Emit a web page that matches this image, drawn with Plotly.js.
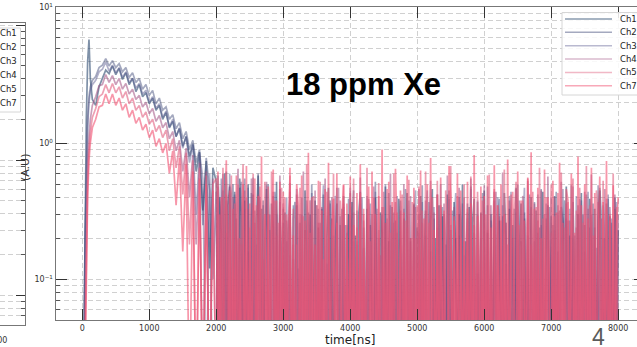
<!DOCTYPE html>
<html>
<head>
<meta charset="utf-8">
<script src="https://cdn.plot.ly/plotly-3.0.1.min.js"></script>
<style>
  html, body { margin: 0; padding: 0; background: #fff; overflow: hidden; }
  #chart { width: 660px; height: 347px; }
</style>
</head>
<body>
<div id="chart"></div>
<script>
// Sampling times of the averaged waveforms [ns]
const timeNs = [
  -400, 0, 20, 40, 60, 80, 100, 120, 150,
  200, 250, 300, 350, 400, 450, 500, 550, 600, 650, 700, 750, 800, 850, 900, 950, 1000, 1050, 1100, 1150,
  1200, 1250, 1300, 1350, 1400, 1450, 1500, 1550, 1600, 1650, 1700, 1750, 1800, 1850, 1900, 1950,
  2000, 2025, 2050, 2075, 2100, 2125, 2150, 2175, 2200, 2225, 2250, 2275, 2300, 2325, 2350, 2375, 2400, 2425, 2450, 2475,
  2500, 2525, 2550, 2575, 2600, 2625, 2650, 2675, 2700, 2725, 2750, 2775, 2800, 2825, 2850, 2875, 2900, 2925, 2950, 2975,
  3000, 3025, 3050, 3075, 3100, 3125, 3150, 3175, 3200, 3225, 3250, 3275, 3300, 3325, 3350, 3375, 3400, 3425, 3450, 3475,
  3500, 3525, 3550, 3575, 3600, 3625, 3650, 3675, 3700, 3725, 3750, 3775, 3800, 3825, 3850, 3875, 3900, 3925, 3950, 3975,
  4000, 4025, 4050, 4075, 4100, 4125, 4150, 4175, 4200, 4225, 4250, 4275, 4300, 4325, 4350, 4375, 4400, 4425, 4450, 4475,
  4500, 4525, 4550, 4575, 4600, 4625, 4650, 4675, 4700, 4725, 4750, 4775, 4800, 4825, 4850, 4875, 4900, 4925, 4950, 4975,
  5000, 5025, 5050, 5075, 5100, 5125, 5150, 5175, 5200, 5225, 5250, 5275, 5300, 5325, 5350, 5375, 5400, 5425, 5450, 5475,
  5500, 5525, 5550, 5575, 5600, 5625, 5650, 5675, 5700, 5725, 5750, 5775, 5800, 5825, 5850, 5875, 5900, 5925, 5950, 5975,
  6000, 6025, 6050, 6075, 6100, 6125, 6150, 6175, 6200, 6225, 6250, 6275, 6300, 6325, 6350, 6375, 6400, 6425, 6450, 6475,
  6500, 6525, 6550, 6575, 6600, 6625, 6650, 6675, 6700, 6725, 6750, 6775, 6800, 6825, 6850, 6875, 6900, 6925, 6950, 6975,
  7000, 7025, 7050, 7075, 7100, 7125, 7150, 7175, 7200, 7225, 7250, 7275, 7300, 7325, 7350, 7375, 7400, 7425, 7450, 7475,
  7500, 7525, 7550, 7575, 7600, 7625, 7650, 7675, 7700, 7725, 7750, 7775, 7800, 7825, 7850, 7875, 7900, 7925, 7950, 7975,
  8000
];

// Amplitudes [A.U]; 0.01 marks samples that sit below the visible floor (noise at or under zero)
const ch1 = [
  0.01, 0.01, 0.02, 0.3, 1.5, 4.0, 5.8, 3.0, 2.1,
  1.9, 2.6, 3.0, 3.45, 3.25, 3.7, 3.2, 3.55, 2.95, 3.3, 2.7, 3.0, 2.4, 2.7, 2.2, 2.35, 1.95, 2.15, 1.75, 1.9,
  1.5, 1.68, 1.3, 1.45, 1.12, 1.28, 0.95, 1.12, 0.8, 0.98, 0.62, 0.86, 0.32, 0.74, 0.12, 0.66,
  0.52, 0.01, 0.4, 0.22, 0.01, 0.6, 0.01, 0.35, 0.48, 0.01, 0.01, 0.44, 0.18, 0.01, 0.55, 0.3, 0.01, 0.38, 0.01, 0.5,
  0.12, 0.01, 0.42, 0.01, 0.27, 0.58, 0.01, 0.33, 0.01, 0.2, 0.46, 0.01, 0.01, 0.36, 0.24, 0.01, 0.52, 0.01, 0.3, 0.15,
  0.01, 0.31, 0.01, 0.22, 0.4, 0.01, 0.14, 0.01, 0.35, 0.01, 0.26, 0.01, 0.01, 0.45, 0.18, 0.01, 0.3, 0.01, 0.09, 0.38,
  0.01, 0.24, 0.01, 0.33, 0.01, 0.01, 0.2, 0.47, 0.01, 0.28, 0.01, 0.16, 0.36, 0.01, 0.25, 0.01, 0.41, 0.01, 0.12, 0.3,
  0.01, 0.37, 0.01, 0.21, 0.01, 0.29, 0.44, 0.01, 0.17, 0.01, 0.33, 0.01, 0.25, 0.01, 0.01, 0.4, 0.1, 0.01, 0.31, 0.22,
  0.01, 0.48, 0.01, 0.19, 0.01, 0.34, 0.01, 0.27, 0.01, 0.39, 0.15, 0.01, 0.28, 0.01, 0.43, 0.01, 0.2, 0.01, 0.36, 0.01,
  0.24, 0.01, 0.41, 0.01, 0.13, 0.32, 0.01, 0.01, 0.27, 0.46, 0.01, 0.2, 0.01, 0.35, 0.01, 0.29, 0.08, 0.01, 0.42, 0.01,
  0.23, 0.01, 0.37, 0.16, 0.01, 0.3, 0.01, 0.5, 0.01, 0.19, 0.01, 0.34, 0.01, 0.26, 0.39, 0.01, 0.11, 0.01, 0.31, 0.01,
  0.45, 0.01, 0.22, 0.01, 0.3, 0.01, 0.38, 0.14, 0.01, 0.27, 0.01, 0.01, 0.43, 0.2, 0.01, 0.33, 0.01, 0.25, 0.01, 0.47,
  0.01, 0.17, 0.36, 0.01, 0.28, 0.01, 0.21, 0.01, 0.4, 0.09, 0.01, 0.32, 0.01, 0.24, 0.01, 0.44, 0.01, 0.19, 0.35, 0.01,
  0.29, 0.01, 0.41, 0.01, 0.16, 0.01, 0.34, 0.26, 0.01, 0.48, 0.01, 0.21, 0.01, 0.37, 0.12, 0.01, 0.3, 0.01, 0.43, 0.01,
  0.25, 0.01, 0.01, 0.39, 0.18, 0.01, 0.33, 0.01, 0.27, 0.45, 0.01, 0.2, 0.01, 0.36, 0.01, 0.29, 0.1, 0.01, 0.4, 0.01,
  0.23
];
const ch2 = [
  0.01, 0.01, 0.01, 0.2, 0.8, 1.5, 2.2, 2.6, 2.9,
  3.1, 3.6, 3.75, 4.2, 3.7, 4.05, 3.6, 3.85, 3.35, 3.6, 3.05, 3.3, 2.8, 3.0, 2.5, 2.7, 2.25, 2.45, 1.95, 2.15,
  1.75, 1.85, 1.5, 1.62, 1.28, 1.42, 1.08, 1.22, 0.9, 1.05, 0.72, 0.9, 0.25, 0.78, 0.45, 0.01,
  0.01, 0.58, 0.3, 0.01, 0.45, 0.01, 0.62, 0.2, 0.01, 0.4, 0.5, 0.01, 0.28, 0.01, 0.47, 0.01, 0.35, 0.55, 0.01, 0.16,
  0.01, 0.43, 0.01, 0.32, 0.01, 0.6, 0.25, 0.01, 0.38, 0.01, 0.01, 0.5, 0.19, 0.01, 0.41, 0.01, 0.3, 0.01, 0.46, 0.01,
  0.33, 0.01, 0.19, 0.01, 0.44, 0.01, 0.28, 0.37, 0.01, 0.12, 0.01, 0.4, 0.01, 0.23, 0.01, 0.31, 0.01, 0.5, 0.17, 0.01,
  0.35, 0.01, 0.26, 0.01, 0.42, 0.01, 0.01, 0.29, 0.38, 0.01, 0.21, 0.01, 0.47, 0.01, 0.14, 0.33, 0.01, 0.25, 0.01, 0.39,
  0.01, 0.27, 0.45, 0.01, 0.18, 0.01, 0.36, 0.01, 0.24, 0.01, 0.41, 0.13, 0.01, 0.3, 0.01, 0.52, 0.01, 0.2, 0.01, 0.34,
  0.01, 0.26, 0.01, 0.43, 0.16, 0.01, 0.31, 0.01, 0.22, 0.01, 0.38, 0.01, 0.01, 0.46, 0.28, 0.01, 0.19, 0.01, 0.35, 0.01,
  0.01, 0.3, 0.01, 0.49, 0.01, 0.21, 0.01, 0.37, 0.11, 0.01, 0.28, 0.01, 0.42, 0.01, 0.25, 0.34, 0.01, 0.18, 0.01, 0.45,
  0.01, 0.32, 0.01, 0.2, 0.01, 0.4, 0.27, 0.01, 0.15, 0.01, 0.36, 0.01, 0.48, 0.01, 0.22, 0.01, 0.3, 0.01, 0.01, 0.43,
  0.18, 0.01, 0.35, 0.01, 0.27, 0.01, 0.44, 0.01, 0.2, 0.39, 0.01, 0.29, 0.01, 0.13, 0.01, 0.41, 0.24, 0.01, 0.33, 0.01,
  0.5, 0.01, 0.19, 0.01, 0.31, 0.01, 0.26, 0.42, 0.01, 0.01, 0.37, 0.01, 0.22, 0.01, 0.46, 0.15, 0.01, 0.28, 0.01, 0.34,
  0.01, 0.25, 0.01, 0.44, 0.01, 0.32, 0.01, 0.19, 0.38, 0.01, 0.27, 0.01, 0.49, 0.01, 0.21, 0.01, 0.35, 0.11, 0.01, 0.3,
  0.01, 0.42, 0.01, 0.24, 0.01, 0.36, 0.01, 0.17, 0.01, 0.47, 0.29, 0.01, 0.2, 0.01, 0.39, 0.01, 0.26, 0.01, 0.33, 0.14,
  0.01
];
const ch3 = [
  0.01, 0.01, 0.01, 0.15, 0.6, 1.3, 2.0, 2.4, 2.7,
  2.9, 3.35, 3.5, 3.95, 3.4, 3.75, 3.3, 3.6, 3.05, 3.35, 2.8, 3.0, 2.55, 2.75, 2.3, 2.45, 2.0, 2.2, 1.8, 1.95,
  1.55, 1.72, 1.32, 1.5, 1.12, 1.3, 0.92, 1.12, 0.72, 0.98, 0.3, 0.85, 0.55, 0.01, 0.6, 0.1,
  0.44, 0.01, 0.01, 0.55, 0.25, 0.01, 0.38, 0.01, 0.6, 0.01, 0.3, 0.42, 0.01, 0.2, 0.01, 0.52, 0.01, 0.33, 0.01, 0.47,
  0.01, 0.27, 0.56, 0.01, 0.18, 0.01, 0.4, 0.01, 0.35, 0.01, 0.49, 0.01, 0.23, 0.01, 0.01, 0.44, 0.3, 0.01, 0.37, 0.01,
  0.26, 0.01, 0.4, 0.01, 0.15, 0.01, 0.35, 0.01, 0.46, 0.21, 0.01, 0.3, 0.01, 0.01, 0.38, 0.24, 0.01, 0.43, 0.01, 0.18,
  0.01, 0.33, 0.01, 0.27, 0.49, 0.01, 0.13, 0.01, 0.36, 0.01, 0.01, 0.41, 0.2, 0.01, 0.29, 0.01, 0.34, 0.01, 0.22, 0.01,
  0.47, 0.01, 0.19, 0.01, 0.32, 0.01, 0.25, 0.4, 0.01, 0.01, 0.28, 0.01, 0.36, 0.14, 0.01, 0.44, 0.01, 0.23, 0.01, 0.3,
  0.01, 0.5, 0.01, 0.17, 0.35, 0.01, 0.26, 0.01, 0.41, 0.01, 0.2, 0.01, 0.33, 0.01, 0.01, 0.38, 0.12, 0.01, 0.29, 0.45,
  0.01, 0.22, 0.01, 0.37, 0.01, 0.28, 0.45, 0.01, 0.16, 0.01, 0.34, 0.01, 0.24, 0.01, 0.5, 0.01, 0.3, 0.19, 0.01, 0.39,
  0.01, 0.01, 0.27, 0.43, 0.01, 0.21, 0.01, 0.36, 0.01, 0.14, 0.31, 0.01, 0.46, 0.01, 0.25, 0.01, 0.38, 0.01, 0.2, 0.01,
  0.32, 0.01, 0.48, 0.01, 0.17, 0.01, 0.29, 0.01, 0.4, 0.23, 0.01, 0.35, 0.01, 0.26, 0.01, 0.01, 0.44, 0.12, 0.01, 0.31,
  0.01, 0.38, 0.01, 0.21, 0.47, 0.01, 0.28, 0.01, 0.34, 0.01, 0.19, 0.01, 0.42, 0.01, 0.25, 0.01, 0.01, 0.36, 0.3, 0.01,
  0.4, 0.01, 0.23, 0.01, 0.35, 0.01, 0.13, 0.46, 0.01, 0.28, 0.01, 0.33, 0.01, 0.2, 0.01, 0.41, 0.01, 0.27, 0.38, 0.01,
  0.16, 0.01, 0.44, 0.01, 0.3, 0.01, 0.24, 0.01, 0.49, 0.01, 0.01, 0.35, 0.19, 0.01, 0.42, 0.01, 0.28, 0.01, 0.22, 0.37,
  0.01
];
const ch4 = [
  0.01, 0.01, 0.01, 0.05, 0.3, 0.7, 1.1, 1.5, 1.9,
  2.2, 2.65, 2.7, 3.2, 2.8, 3.15, 2.7, 3.0, 2.5, 2.75, 2.3, 2.5, 2.1, 2.25, 1.85, 2.0, 1.65, 1.8, 1.45, 1.6,
  1.3, 1.42, 1.08, 1.22, 0.88, 1.05, 0.62, 0.92, 0.4, 0.82, 0.18, 0.72, 0.01, 0.62, 0.01, 0.55,
  0.01, 0.48, 0.01, 0.35, 0.6, 0.01, 0.22, 0.01, 0.5, 0.01, 0.4, 0.01, 0.28, 0.65, 0.01, 0.18, 0.01, 0.45, 0.01, 0.33,
  0.01, 0.55, 0.01, 0.26, 0.01, 0.42, 0.37, 0.01, 0.14, 0.01, 0.52, 0.01, 0.3, 0.01, 0.44, 0.01, 0.21, 0.01, 0.58, 0.01,
  0.36, 0.01, 0.27, 0.01, 0.51, 0.01, 0.18, 0.01, 0.42, 0.01, 0.3, 0.01, 0.62, 0.01, 0.23, 0.01, 0.38, 0.12, 0.01, 0.45,
  0.01, 0.26, 0.01, 0.34, 0.01, 0.55, 0.01, 0.2, 0.01, 0.4, 0.29, 0.01, 0.01, 0.47, 0.16, 0.01, 0.36, 0.01, 0.25, 0.01,
  0.43, 0.01, 0.31, 0.01, 0.19, 0.01, 0.56, 0.01, 0.27, 0.01, 0.01, 0.39, 0.22, 0.01, 0.48, 0.01, 0.33, 0.01, 0.15, 0.01,
  0.44, 0.01, 0.28, 0.01, 0.6, 0.01, 0.21, 0.37, 0.01, 0.01, 0.32, 0.01, 0.5, 0.01, 0.24, 0.01, 0.41, 0.01, 0.18, 0.34,
  0.01, 0.46, 0.01, 0.26, 0.01, 0.38, 0.01, 0.2, 0.53, 0.01, 0.31, 0.01, 0.42, 0.01, 0.14, 0.01, 0.36, 0.01, 0.58, 0.01,
  0.25, 0.01, 0.34, 0.01, 0.01, 0.47, 0.19, 0.01, 0.4, 0.01, 0.28, 0.01, 0.55, 0.01, 0.22, 0.01, 0.37, 0.01, 0.3, 0.01,
  0.49, 0.01, 0.23, 0.01, 0.35, 0.01, 0.17, 0.44, 0.01, 0.29, 0.01, 0.61, 0.01, 0.26, 0.01, 0.38, 0.01, 0.2, 0.01, 0.46,
  0.32, 0.01, 0.01, 0.41, 0.24, 0.01, 0.53, 0.01, 0.18, 0.01, 0.36, 0.01, 0.27, 0.01, 0.45, 0.01, 0.3, 0.01, 0.57, 0.01,
  0.22, 0.01, 0.4, 0.01, 0.31, 0.01, 0.52, 0.01, 0.19, 0.36, 0.01, 0.27, 0.01, 0.48, 0.01, 0.24, 0.01, 0.39, 0.01, 0.15,
  0.44, 0.01, 0.33, 0.01, 0.59, 0.01, 0.21, 0.01, 0.37, 0.01, 0.28, 0.01, 0.46, 0.01, 0.01, 0.34, 0.18, 0.01, 0.42, 0.01,
  0.3
];
const ch5 = [
  0.01, 0.01, 0.01, 0.03, 0.2, 0.5, 0.9, 1.2, 1.55,
  1.8, 2.2, 2.3, 2.7, 2.35, 2.75, 2.35, 2.6, 2.15, 2.4, 1.95, 2.15, 1.75, 1.9, 1.55, 1.7, 1.38, 1.5, 1.22, 1.35,
  1.1, 1.25, 0.88, 1.08, 0.66, 0.95, 0.42, 0.85, 0.18, 0.75, 0.01, 0.66, 0.01, 0.58, 0.01, 0.5,
  0.55, 0.01, 0.3, 0.01, 0.66, 0.01, 0.42, 0.2, 0.01, 0.58, 0.01, 0.36, 0.01, 0.5, 0.01, 0.27, 0.7, 0.01, 0.4, 0.01,
  0.24, 0.01, 0.6, 0.01, 0.35, 0.01, 0.48, 0.01, 0.16, 0.52, 0.01, 0.3, 0.01, 0.62, 0.01, 0.38, 0.01, 0.26, 0.01, 0.47,
  0.01, 0.4, 0.01, 0.25, 0.58, 0.01, 0.33, 0.01, 0.18, 0.01, 0.47, 0.01, 0.29, 0.01, 0.7, 0.01, 0.22, 0.01, 0.41, 0.01,
  0.35, 0.01, 0.52, 0.01, 0.14, 0.01, 0.44, 0.3, 0.01, 0.01, 0.6, 0.01, 0.26, 0.01, 0.38, 0.01, 0.49, 0.01, 0.21, 0.01,
  0.36, 0.01, 0.55, 0.01, 0.24, 0.01, 0.43, 0.01, 0.3, 0.01, 0.66, 0.01, 0.19, 0.01, 0.4, 0.28, 0.01, 0.51, 0.01, 0.01,
  0.34, 0.01, 0.46, 0.01, 0.22, 0.01, 0.6, 0.01, 0.31, 0.01, 0.13, 0.42, 0.01, 0.27, 0.01, 0.54, 0.01, 0.37, 0.01, 0.2,
  0.01, 0.48, 0.01, 0.32, 0.01, 0.62, 0.01, 0.26, 0.01, 0.4, 0.17, 0.01, 0.53, 0.01, 0.35, 0.01, 0.01, 0.45, 0.23, 0.01,
  0.68, 0.01, 0.29, 0.01, 0.41, 0.01, 0.2, 0.01, 0.5, 0.01, 0.33, 0.01, 0.57, 0.01, 0.25, 0.01, 0.44, 0.12, 0.01, 0.38,
  0.01, 0.3, 0.01, 0.59, 0.01, 0.22, 0.46, 0.01, 0.35, 0.01, 0.27, 0.01, 0.64, 0.01, 0.18, 0.01, 0.42, 0.01, 0.31, 0.52,
  0.01, 0.25, 0.01, 0.38, 0.01, 0.01, 0.56, 0.2, 0.01, 0.44, 0.01, 0.34, 0.01, 0.66, 0.01, 0.28, 0.01, 0.4, 0.01, 0.15,
  0.5, 0.01, 0.29, 0.01, 0.43, 0.01, 0.61, 0.01, 0.24, 0.01, 0.37, 0.01, 0.19, 0.55, 0.01, 0.32, 0.01, 0.47, 0.01, 0.26,
  0.01, 0.68, 0.01, 0.35, 0.01, 0.21, 0.01, 0.45, 0.3, 0.01, 0.01, 0.53, 0.01, 0.39, 0.01, 0.27, 0.01, 0.6, 0.01, 0.34,
  0.01
];
const ch7 = [
  0.01, 0.01, 0.01, 0.02, 0.12, 0.4, 0.75, 1.0, 1.3,
  1.5, 1.85, 1.9, 2.3, 1.95, 2.3, 1.9, 2.15, 1.75, 1.95, 1.55, 1.75, 1.4, 1.55, 1.25, 1.38, 1.1, 1.25, 0.95, 1.08,
  0.85, 1.0, 0.6, 0.88, 0.35, 0.78, 0.16, 0.7, 0.01, 0.62, 0.01, 0.55, 0.01, 0.5, 0.01, 0.45,
  0.01, 0.62, 0.01, 0.4, 0.01, 0.28, 0.75, 0.01, 0.45, 0.01, 0.33, 0.01, 0.58, 0.01, 0.2, 0.01, 0.5, 0.01, 0.68, 0.01,
  0.36, 0.01, 0.26, 0.55, 0.01, 0.41, 0.01, 0.8, 0.01, 0.3, 0.01, 0.48, 0.01, 0.22, 0.64, 0.01, 0.38, 0.01, 0.52, 0.01,
  0.44, 0.01, 0.3, 0.01, 0.66, 0.01, 0.21, 0.01, 0.5, 0.35, 0.01, 0.58, 0.01, 0.27, 0.01, 0.85, 0.01, 0.4, 0.01, 0.18,
  0.01, 0.53, 0.01, 0.32, 0.01, 0.46, 0.01, 0.72, 0.01, 0.24, 0.39, 0.01, 0.6, 0.01, 0.01, 0.29, 0.5, 0.01, 0.36, 0.01,
  0.57, 0.01, 0.25, 0.01, 0.43, 0.01, 0.7, 0.01, 0.33, 0.01, 0.19, 0.48, 0.01, 0.62, 0.01, 0.3, 0.01, 0.41, 0.01, 0.9,
  0.01, 0.26, 0.01, 0.52, 0.01, 0.37, 0.01, 0.65, 0.22, 0.01, 0.45, 0.01, 0.31, 0.01, 0.58, 0.01, 0.2, 0.01, 0.47, 0.01,
  0.35, 0.01, 0.63, 0.01, 0.28, 0.01, 0.5, 0.01, 0.78, 0.01, 0.23, 0.01, 0.42, 0.01, 0.56, 0.01, 0.32, 0.01, 0.01, 0.68,
  0.4, 0.01, 0.27, 0.01, 0.6, 0.01, 0.45, 0.01, 0.19, 0.01, 0.52, 0.01, 0.36, 0.01, 0.82, 0.01, 0.29, 0.01, 0.48, 0.01,
  0.41, 0.01, 0.58, 0.01, 0.24, 0.01, 0.69, 0.01, 0.35, 0.01, 0.5, 0.01, 0.3, 0.01, 0.76, 0.01, 0.21, 0.44, 0.01, 0.01,
  0.62, 0.01, 0.38, 0.01, 0.27, 0.01, 0.55, 0.01, 0.86, 0.01, 0.33, 0.01, 0.47, 0.01, 0.2, 0.01, 0.64, 0.01, 0.4, 0.01,
  0.01, 0.53, 0.01, 0.31, 0.01, 0.72, 0.01, 0.26, 0.01, 0.46, 0.38, 0.01, 0.6, 0.01, 0.22, 0.01, 0.8, 0.01, 0.35, 0.01,
  0.5, 0.01, 0.28, 0.01, 0.66, 0.01, 0.43, 0.01, 0.19, 0.57, 0.01, 0.37, 0.01, 0.74, 0.01, 0.3, 0.01, 0.49, 0.01, 0.25,
  0.4
];

const channelNames = ['Ch1', 'Ch2', 'Ch3', 'Ch4', 'Ch5', 'Ch7'];
const channelValues = [ch1, ch2, ch3, ch4, ch5, ch7];
const channelColors = [
  'rgba(21,55,97,0.55)',
  'rgba(53,65,113,0.45)',
  'rgba(81,81,137,0.45)',
  'rgba(161,81,129,0.55)',
  'rgba(225,97,129,0.6)',
  'rgba(241,81,113,0.6)'
];
const legendColors = [
  'rgba(21,55,97,0.5)',
  'rgba(53,65,113,0.45)',
  'rgba(81,81,137,0.4)',
  'rgba(161,81,129,0.4)',
  'rgba(225,97,129,0.45)',
  'rgba(241,81,113,0.5)'
];

const xTickVals = [0, 1000, 2000, 3000, 4000, 5000, 6000, 7000, 8000];
const yTickVals = [0.1, 1, 10];
const yTickText = ['10<sup>\u22121</sup>', '10<sup>0</sup>', '10<sup>1</sup>'];
const yMinorVals = [0.06, 0.07, 0.08, 0.09, 0.2, 0.3, 0.4, 0.5, 0.6, 0.7, 0.8, 0.9, 2, 3, 4, 5, 6, 7, 8, 9];

channelValues.forEach((v, i) => {
  if (v.length !== timeNs.length) throw new Error(channelNames[i] + ' has ' + v.length + ' samples, expected ' + timeNs.length);
});

// Figure geometry (px)
const W = 660, H = 347;
const px = v => v / W;
const py = v => 1 - v / H;

const gridStyle = { showgrid: true, gridcolor: '#c4c4c4', griddash: '5px,3px', gridwidth: 0.8 };
const FONT = 'DejaVu Sans, Verdana, sans-serif';

const traces = channelValues.map((vals, i) => ({
  type: 'scatter', mode: 'lines',
  x: timeNs, y: vals, name: channelNames[i],
  line: { color: channelColors[i], width: 1.7 },
  showlegend: false, hoverinfo: 'skip'
}));
// Neighbouring panel (only its right edge is in view)
traces.push({ type: 'scatter', mode: 'lines', x: [], y: [], xaxis: 'x2', yaxis: 'y2', showlegend: false, hoverinfo: 'skip' });

// Legend of the main panel
const legTop = 19, legStep = 13.35;
const shapes = [{
  type: 'rect', xref: 'paper', yref: 'paper',
  x0: px(562), x1: px(641), y0: py(12.5), y1: py(95),
  line: { color: '#d6d6d6', width: 1 }, fillcolor: 'rgba(255,255,255,0.85)', layer: 'above'
}];
const annotations = [];
channelNames.forEach((name, i) => {
  const y = py(legTop + i * legStep);
  shapes.push({
    type: 'line', xref: 'paper', yref: 'paper',
    x0: px(565), x1: px(612), y0: y, y1: y,
    line: { color: legendColors[i], width: 1.5 }, layer: 'above'
  });
  annotations.push({
    xref: 'paper', yref: 'paper', x: px(618), y: y, xanchor: 'left', yanchor: 'middle',
    text: name, showarrow: false, font: { family: FONT, size: 8.5, color: '#222' }
  });
});

// Legend of the neighbouring panel
shapes.push({
  type: 'rect', xref: 'paper', yref: 'paper',
  x0: px(-30), x1: px(20.5), y0: py(28), y1: py(112),
  line: { color: '#d6d6d6', width: 1 }, fillcolor: '#fff', layer: 'above'
});
channelNames.forEach((name, i) => {
  annotations.push({
    xref: 'paper', yref: 'paper', x: px(18.5), y: py(33.3 + i * 13.9), xanchor: 'right', yanchor: 'middle',
    text: name, showarrow: false, font: { family: FONT, size: 8.5, color: '#222' }
  });
});

annotations.push(
  { xref: 'paper', yref: 'paper', x: px(-3), y: py(340), xanchor: 'center', yanchor: 'middle',
    text: '8000', showarrow: false, font: { family: FONT, size: 8, color: '#333' } },
  { xref: 'paper', yref: 'paper', x: px(25), y: py(168), xanchor: 'center', yanchor: 'middle', textangle: -90,
    text: '(A.U)', showarrow: false, font: { family: FONT, size: 11, color: '#333' } },
  { xref: 'paper', yref: 'paper', x: px(363), y: py(85), xanchor: 'center', yanchor: 'middle',
    text: '<b>18 ppm Xe</b>', showarrow: false, font: { family: 'Liberation Sans, Arial, sans-serif', size: 31, color: '#000' } },
  { xref: 'paper', yref: 'paper', x: px(598), y: py(336.5), xanchor: 'center', yanchor: 'middle',
    text: '4', showarrow: false, font: { family: 'Liberation Sans, Arial, sans-serif', size: 23, color: '#5a5a5a' } }
);

const layout = {
  width: W, height: H,
  margin: { l: 0, r: 0, t: 0, b: 0, pad: 0 },
  paper_bgcolor: '#fff', plot_bgcolor: '#fff',
  font: { family: FONT, size: 8, color: '#333' },
  showlegend: false,
  xaxis: Object.assign({
    domain: [px(55.5), px(645)], range: [-400, 8400],
    tickmode: 'array', tickvals: xTickVals,
    ticks: 'inside', ticklen: 11, tickcolor: '#333', tickwidth: 1,
    showline: true, mirror: 'ticks', linecolor: '#777', linewidth: 1, zeroline: false,
    tickfont: { family: FONT, size: 8, color: '#333' },
    title: { text: 'time[ns]', font: { family: FONT, size: 12, color: '#222' }, standoff: 6 }
  }, gridStyle),
  yaxis: Object.assign({
    domain: [py(320), py(7.3)], type: 'log', range: [-1.3, 1.0],
    tickmode: 'array', tickvals: yTickVals, ticktext: yTickText,
    ticks: 'inside', ticklen: 11, tickcolor: '#333', tickwidth: 1,
    showline: true, mirror: 'ticks', linecolor: '#777', linewidth: 1, zeroline: false,
    tickfont: { family: FONT, size: 8, color: '#333' },
    minor: Object.assign({ tickmode: 'array', tickvals: yMinorVals, ticks: 'inside', ticklen: 4, tickcolor: '#555' }, gridStyle)
  }, gridStyle),
  xaxis2: {
    domain: [0, px(25)], range: [0, 1], anchor: 'y2',
    showgrid: false, zeroline: false, showticklabels: false, ticks: '',
    showline: true, mirror: true, linecolor: '#777', linewidth: 1
  },
  yaxis2: Object.assign({
    domain: [py(325), py(23)], type: 'log', range: [-1.222, 1.015], anchor: 'x2', side: 'right',
    tickmode: 'array', tickvals: yTickVals, showticklabels: false,
    ticks: 'inside', ticklen: 9, tickcolor: '#333',
    showline: true, linecolor: '#777', linewidth: 1, zeroline: false,
    minor: Object.assign({ tickmode: 'array', tickvals: yMinorVals, ticks: 'inside', ticklen: 4, tickcolor: '#555' }, gridStyle)
  }, gridStyle),
  shapes: shapes,
  annotations: annotations
};

Plotly.newPlot('chart', traces, layout, { staticPlot: true, displayModeBar: false });
</script>
</body>
</html>
